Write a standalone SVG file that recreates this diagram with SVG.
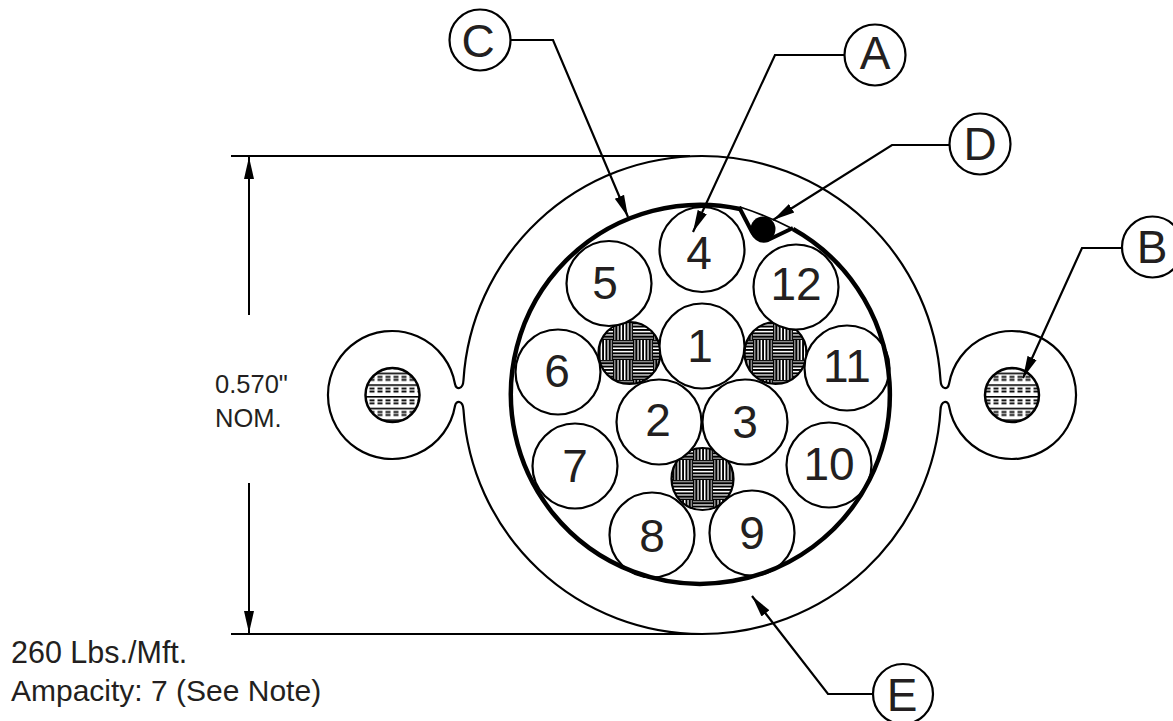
<svg xmlns="http://www.w3.org/2000/svg" width="1173" height="721" viewBox="0 0 1173 721">
<style>
text{font-family:"Liberation Sans",Arial,sans-serif;fill:#231f20}
.n{font-size:46px;text-anchor:middle}
.s{font-size:25.5px}
.b{font-size:30.5px}
.o{fill:#fff;stroke:#000;stroke-width:2.2}
.l{fill:none;stroke:#000;stroke-width:2.2}
.d{fill:none;stroke:#000;stroke-width:2}
</style>
<defs>
<marker id="ah" markerUnits="userSpaceOnUse" markerWidth="24" markerHeight="12" refX="22" refY="6" orient="auto"><path d="M0 1 L22 6 L0 11Z" fill="#000"/></marker>
<g id="hc"><rect width="20" height="20" fill="#000"/><rect y="0.9" width="20" height="1.5" fill="#888"/><rect y="4.2" width="20" height="1.5" fill="#ccc"/><rect y="7.5" width="20" height="1.5" fill="#fff"/><rect y="10.9" width="20" height="1.5" fill="#fff"/><rect y="14.2" width="20" height="1.5" fill="#ccc"/><rect y="17.5" width="20" height="1.5" fill="#888"/></g>
<pattern id="weave" patternUnits="userSpaceOnUse" x="13" y="20" width="40" height="40">
<use href="#hc"/><use href="#hc" transform="translate(40 0) rotate(90)"/><use href="#hc" transform="translate(20 20) rotate(90)"/><use href="#hc" transform="translate(20 20)"/>
</pattern>
<pattern id="strand" patternUnits="userSpaceOnUse" x="0" y="384.3" width="8" height="11.7">
<rect width="8" height="11.7" fill="#fff"/><rect y="0" width="8" height="1.6" fill="#000"/><rect x="1.5" y="3.4" width="5" height="1.8" fill="#000"/><rect x="1.5" y="6.4" width="5" height="1.8" fill="#000"/>
</pattern>
</defs>
<g id="jacket"><path class="l" d="M463.5 380 A239 239 0 0 1 702 156 A239 239 0 0 1 940.5 380 C941 390 948 390 949 384 A64 64 0 1 1 949 406 C948 400 941 400 940.5 410 A239 239 0 0 1 702 634 A239 239 0 0 1 463.5 410 C463 400 456 400 455 406 A64 64 0 1 1 455 384 C456 390 463 390 463.5 380Z"/></g>
<g id="ground-left"><circle class="l" cx="392.5" cy="395" r="27" style="fill:url(#strand);stroke-width:2.5"/></g>
<g id="ground-right"><circle class="l" cx="1012" cy="395" r="27" style="fill:url(#strand);stroke-width:2.5"/></g>
<g id="filler-left"><circle class="l" cx="629.5" cy="353" r="31" style="fill:url(#weave)"/></g>
<g id="filler-right"><circle class="l" cx="775.5" cy="353" r="31" style="fill:url(#weave)"/></g>
<g id="filler-bottom"><circle class="l" cx="702.5" cy="479" r="31" style="fill:url(#weave)"/></g>
<g id="c1"><circle class="o" cx="702" cy="346" r="42.5"/><text class="n" x="700" y="362">1</text></g>
<g id="c2"><circle class="o" cx="659" cy="422" r="42.5"/><text class="n" x="658" y="436">2</text></g>
<g id="c3"><circle class="o" cx="745" cy="422" r="42.5"/><text class="n" x="745" y="438">3</text></g>
<g id="c4"><circle class="o" cx="702" cy="249.5" r="42.5"/><text class="n" x="699" y="269">4</text></g>
<g id="c5"><circle class="o" cx="609" cy="283.5" r="42.5"/><text class="n" x="605" y="299">5</text></g>
<g id="c6"><circle class="o" cx="558" cy="372" r="42.5"/><text class="n" x="557" y="387">6</text></g>
<g id="c7"><circle class="o" cx="575" cy="466" r="42.5"/><text class="n" x="575" y="482">7</text></g>
<g id="c8"><circle class="o" cx="652" cy="535" r="42.5"/><text class="n" x="652" y="552">8</text></g>
<g id="c9"><circle class="o" cx="752" cy="533" r="42.5"/><text class="n" x="752" y="549">9</text></g>
<g id="c10"><circle class="o" cx="829" cy="465" r="42.5"/><text class="n" x="829" y="480">10</text></g>
<g id="c11"><circle class="o" cx="847" cy="368" r="42.5"/><text class="n" x="847" y="382">11</text></g>
<g id="c12"><circle class="o" cx="796" cy="287" r="42.5"/><text class="n" x="796" y="300">12</text></g>
<g id="shield">
<path d="M793 229 A189.5 189.5 0 1 1 740 209" fill="none" stroke="#000" stroke-width="4.5"/>
<path d="M739 207 L752 232 Q758 243 768 240 L793 228" fill="none" stroke="#000" stroke-width="4"/>
<path d="M740 207 Q768 216 793 229" fill="none" stroke="#000" stroke-width="1.8"/>
</g>
<g id="drain"><circle cx="763" cy="229" r="12.5" fill="#000"/></g>
<g id="connectors">
<polyline class="l" points="511,40 553,40 628,217" marker-end="url(#ah)"/>
<polyline class="l" points="844,55 775,55 693,232" marker-end="url(#ah)"/>
<polyline class="l" points="949,145 892,145 773,220" marker-end="url(#ah)"/>
<polyline class="l" points="1122,248 1082,248 1023,378" marker-end="url(#ah)"/>
<polyline class="l" points="873,694 828,694 752,596" marker-end="url(#ah)"/>
<line class="d" x1="231" y1="156" x2="690" y2="156"/>
<line class="d" x1="231" y1="634" x2="690" y2="634"/>
<line class="d" x1="249" y1="315" x2="249" y2="157" marker-end="url(#ah)"/>
<line class="d" x1="249" y1="483" x2="249" y2="633" marker-end="url(#ah)"/>
</g>
<g id="label-a"><circle class="o" cx="875" cy="55" r="30.5"/><text class="n" x="875" y="69">A</text></g>
<g id="label-b"><circle class="o" cx="1152.5" cy="247" r="30.5"/><text class="n" x="1152" y="263">B</text></g>
<g id="label-c"><circle class="o" cx="480" cy="40" r="30.5"/><text class="n" x="478" y="57">C</text></g>
<g id="label-d"><circle class="o" cx="980" cy="144" r="30.5"/><text class="n" x="980" y="160">D</text></g>
<g id="label-e"><circle class="o" cx="903" cy="694" r="30"/><text class="n" x="902" y="711">E</text></g>
<g id="notes">
<text class="s" x="215" y="393">0.570"</text>
<text class="s" x="215" y="427">NOM.</text>
<text class="b" x="11" y="663">260 Lbs./Mft.</text>
<text class="b" x="11" y="701" style="font-size:30px">Ampacity: 7 (See Note)</text>
</g>
</svg>
